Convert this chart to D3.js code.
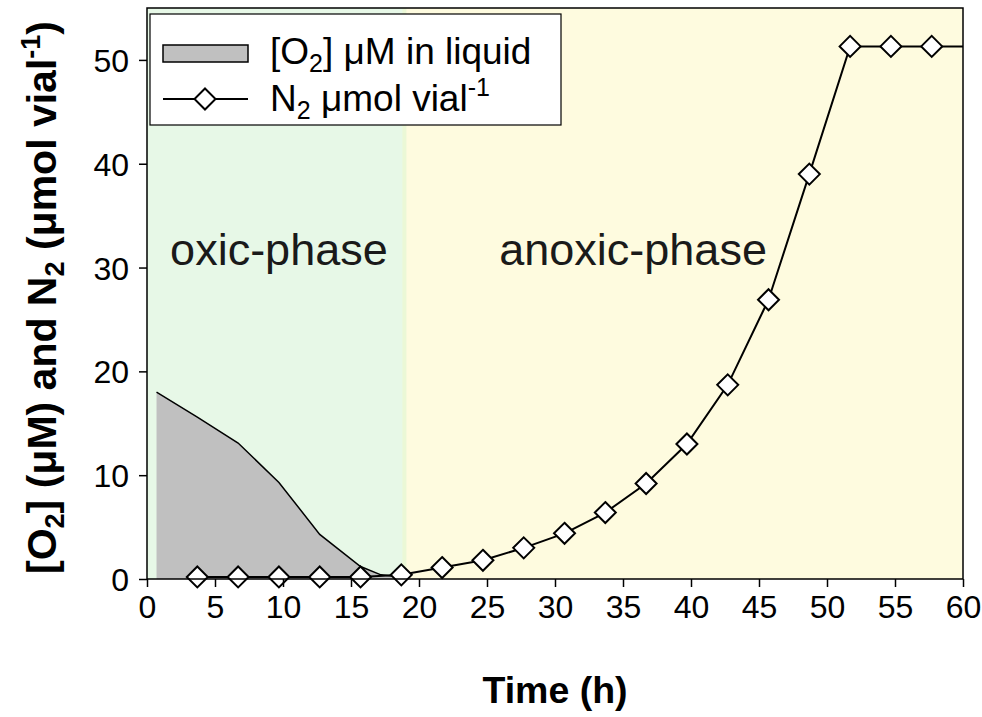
<!DOCTYPE html>
<html>
<head>
<meta charset="utf-8">
<script src="https://cdn.jsdelivr.net/npm/d3@7"></script>
<style>
  html, body { margin: 0; padding: 0; background: #ffffff; }
  svg { display: block; font-family: Arial, "Liberation Sans", sans-serif; }
</style>
</head>
<body>
<svg id="chart" width="982" height="717"></svg>
<script>
// Sampling times (h) and N2 produced per vial
const n2Time = [3.7, 6.7, 9.7, 12.7, 15.7, 18.7, 21.7, 24.7, 27.7, 30.7, 33.7, 36.7, 39.7, 42.7, 45.7, 48.7, 51.7, 54.7, 57.7];
const n2Umol = [0.2, 0.2, 0.2, 0.2, 0.2, 0.4, 1.1, 1.8, 3.0, 4.4, 6.4, 9.2, 13.0, 18.7, 26.9, 39.0, 51.3, 51.3, 51.3];

// Dissolved oxygen in the liquid (µM)
const o2Time = [0.7, 3.7, 6.7, 9.7, 12.7, 15.7, 17.2, 18.7];
const o2Um   = [18.0, 15.6, 13.1, 9.3, 4.3, 1.2, 0.4, 0.2];

// Phases of the incubation (h)
const phaseNames = ["oxic-phase", "anoxic-phase"];
const phaseStart = [0, 19];
const phaseEnd   = [19, 60];

const xTicks = [0, 5, 10, 15, 20, 25, 30, 35, 40, 45, 50, 55, 60];
const yTicks = [0, 10, 20, 30, 40, 50];

const svg = d3.select("#chart");
const plotL = 147, plotR = 963, plotT = 8, plotB = 579;

const x = d3.scaleLinear().domain([0, 60]).range([plotL, plotR]);
const y = d3.scaleLinear().domain([0, 55]).range([plotB, plotT]);

// phase backgrounds
const phaseFill = ["#e7f8e7", "#fefbdf"];
svg.selectAll("rect.phase").data(phaseNames).join("rect")
  .attr("class", "phase")
  .attr("x", (d, i) => x(phaseStart[i]))
  .attr("y", plotT)
  .attr("width", (d, i) => x(phaseEnd[i]) - x(phaseStart[i]))
  .attr("height", plotB - plotT)
  .attr("fill", (d, i) => phaseFill[i]);
// soft seam between the phases
svg.append("rect")
  .attr("x", x(19) - 3).attr("y", plotT)
  .attr("width", 4).attr("height", plotB - plotT)
  .attr("fill", "#ebf8d6");

// phase labels
svg.selectAll("text.phase").data(phaseNames).join("text")
  .attr("class", "phase")
  .attr("x", (d, i) => i === 0 ? x(1.7) : x(25.9))
  .attr("y", 265)
  .attr("font-size", 45)
  .attr("fill", "#1a1a1a")
  .text(d => d);

// oxygen area
const area = d3.area()
  .x((d, i) => x(o2Time[i]))
  .y0(y(0))
  .y1(d => y(d));
svg.append("path")
  .datum(o2Um)
  .attr("d", area)
  .attr("fill", "#c0c0c0");
const o2Line = d3.line().x((d, i) => x(o2Time[i])).y(d => y(d));
svg.append("path")
  .datum(o2Um)
  .attr("d", o2Line)
  .attr("fill", "none")
  .attr("stroke", "#000")
  .attr("stroke-width", 1.5);

// N2 line, carried to the end of the run
const n2Line = d3.line().x(d => x(d[0])).y(d => y(d[1]));
const n2Pts = n2Time.map((t, i) => [t, n2Umol[i]]);
n2Pts.push([60, n2Umol[n2Umol.length - 1]]);
svg.append("path")
  .datum(n2Pts)
  .attr("d", n2Line)
  .attr("fill", "none")
  .attr("stroke", "#000")
  .attr("stroke-width", 2);

const diamondPath = r => `M0,${-r}L${r},0L0,${r}L${-r},0Z`;
svg.selectAll("path.n2pt").data(n2Umol).join("path")
  .attr("class", "n2pt")
  .attr("transform", (d, i) => `translate(${x(n2Time[i])},${y(d)})`)
  .attr("d", diamondPath(10.5))
  .attr("fill", "#fff")
  .attr("stroke", "#000")
  .attr("stroke-width", 2);

// frame
svg.append("rect")
  .attr("x", plotL).attr("y", plotT)
  .attr("width", plotR - plotL).attr("height", plotB - plotT)
  .attr("fill", "none").attr("stroke", "#000").attr("stroke-width", 1.5);

// axes
const xAxis = d3.axisBottom(x).tickValues(xTicks).tickSize(8).tickPadding(8).tickSizeOuter(0);
const gx = svg.append("g").attr("transform", `translate(0,${plotB})`).call(xAxis);
const yAxis = d3.axisLeft(y).tickValues(yTicks).tickSize(8).tickPadding(10).tickSizeOuter(0);
const gy = svg.append("g").attr("transform", `translate(${plotL},0)`).call(yAxis);
[gx, gy].forEach(g => {
  g.select(".domain").remove();
  g.selectAll(".tick line").attr("stroke", "#000").attr("stroke-width", 1.5);
  g.selectAll(".tick text").attr("font-size", 32).attr("fill", "#000")
    .attr("font-family", "Arial, 'Liberation Sans', sans-serif");
});
gx.selectAll(".tick text").attr("dy", "0.72em");
gy.selectAll(".tick text").attr("dy", "0.36em");

// axis titles
svg.append("text")
  .attr("x", x(30)).attr("y", 703)
  .attr("text-anchor", "middle")
  .attr("font-size", 37.5).attr("font-weight", "bold")
  .text("Time (h)");

const yt = svg.append("text")
  .attr("transform", `translate(56,${(plotT + plotB) / 2 + 4}) rotate(-90)`)
  .attr("text-anchor", "middle")
  .attr("font-size", 41).attr("font-weight", "bold");
yt.append("tspan").text("[O");
yt.append("tspan").attr("font-size", 27).attr("dy", 8).text("2");
yt.append("tspan").attr("dy", -8).text("] (μM) and N");
yt.append("tspan").attr("font-size", 27).attr("dy", 8).text("2");
yt.append("tspan").attr("dy", -8).text(" (μmol vial");
yt.append("tspan").attr("font-size", 27).attr("dy", -16).text("-1");
yt.append("tspan").attr("dy", 16).text(")");

// legend
const lg = svg.append("g");
lg.append("rect")
  .attr("x", 150).attr("y", 14).attr("width", 411).attr("height", 111)
  .attr("fill", "#fff").attr("stroke", "#000").attr("stroke-width", 1.2);
lg.append("rect")
  .attr("x", 163).attr("y", 45).attr("width", 85).attr("height", 17)
  .attr("fill", "#c0c0c0").attr("stroke", "#000").attr("stroke-width", 1.5);
lg.append("line")
  .attr("x1", 163).attr("x2", 248).attr("y1", 99).attr("y2", 99)
  .attr("stroke", "#000").attr("stroke-width", 2);
lg.append("path")
  .attr("transform", "translate(205,99)")
  .attr("d", diamondPath(10.5))
  .attr("fill", "#fff").attr("stroke", "#000").attr("stroke-width", 2);

const l1 = lg.append("text").attr("x", 270).attr("y", 64).attr("font-size", 37);
l1.append("tspan").text("[O");
l1.append("tspan").attr("font-size", 25).attr("dy", 8).text("2");
l1.append("tspan").attr("dy", -8).text("] μM in liquid");

const l2 = lg.append("text").attr("x", 270).attr("y", 111).attr("font-size", 37);
l2.append("tspan").text("N");
l2.append("tspan").attr("font-size", 25).attr("dy", 8).text("2");
l2.append("tspan").attr("dy", -8).text(" μmol vial");
l2.append("tspan").attr("font-size", 25).attr("dy", -15).text("-1");
</script>
</body>
</html>
